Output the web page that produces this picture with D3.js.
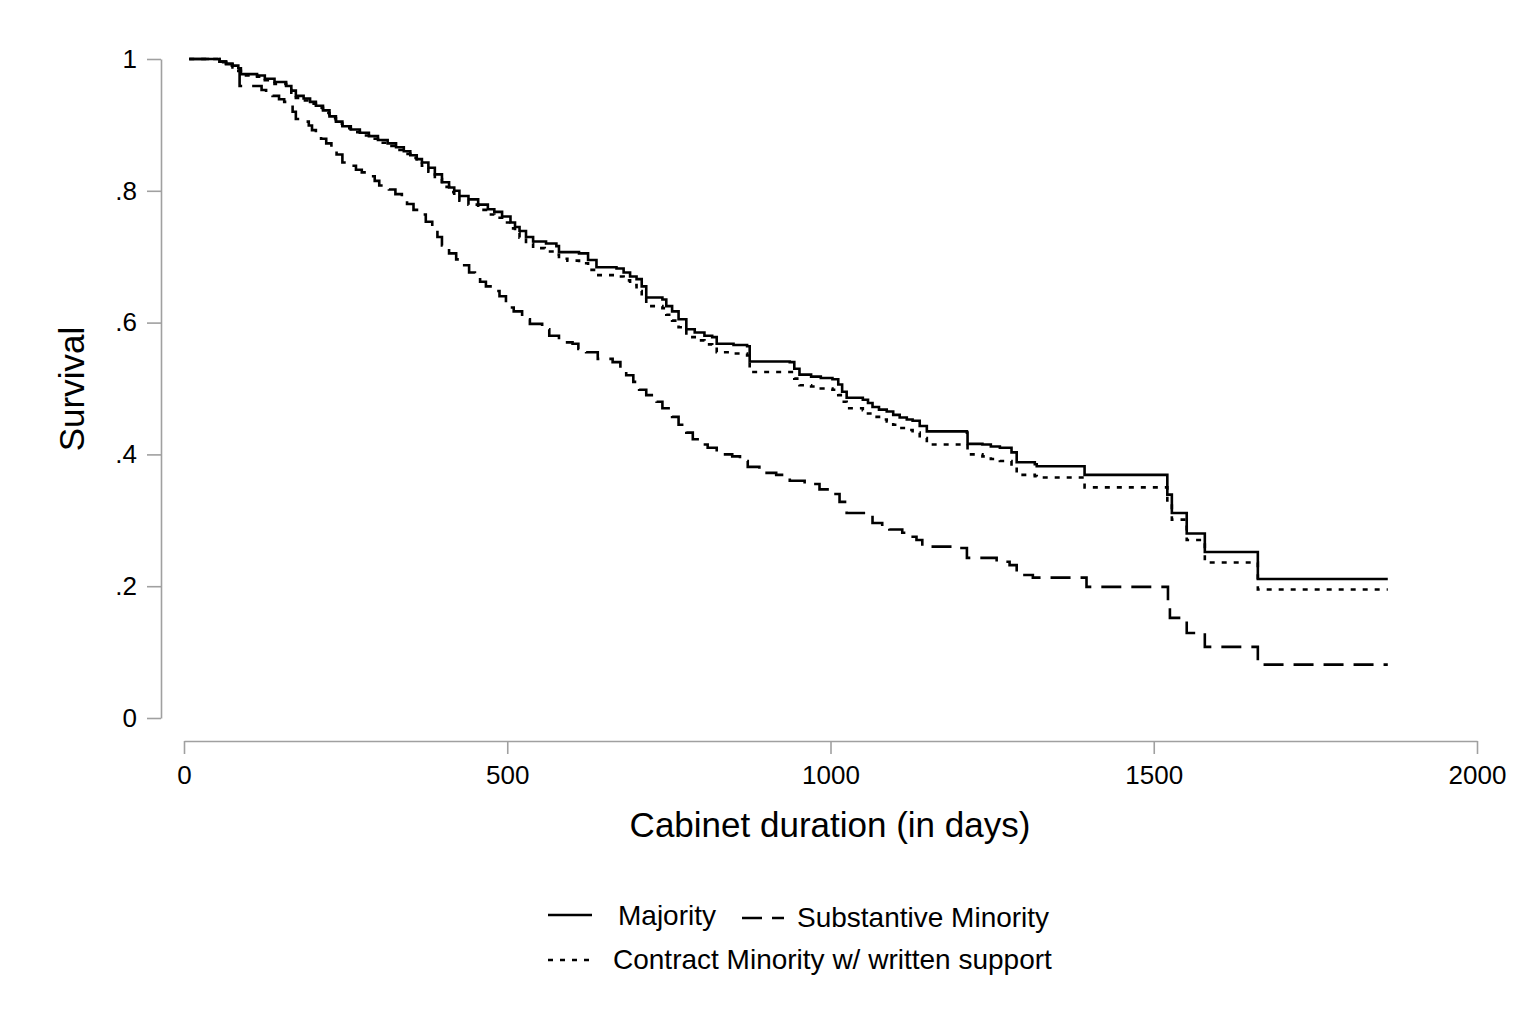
<!DOCTYPE html>
<html>
<head>
<meta charset="utf-8">
<script src="https://cdn.jsdelivr.net/npm/d3@7"></script>
<style>
  html, body { margin: 0; padding: 0; background: #fff; }
  svg { display: block; font-family: "Liberation Sans", Arial, sans-serif; }
</style>
</head>
<body>
<svg id="chart" width="1536" height="1024"></svg>
<script>
// ---- Data (Kaplan-Meier step points: [day, survival]) ----
const seriesNames = ["Majority", "Substantive Minority", "Contract Minority w/ written support"];

const majority = [
[8,1],[46,1],[55,0.996],[65,0.993],[75,0.99],[84,0.986],[88,0.977],[113,0.975],[125,0.97],[140,0.965],[158,0.959],[166,0.952],[173,0.944],[185,0.94],[195,0.935],[204,0.929],[215,0.922],[225,0.913],[235,0.905],[245,0.898],[258,0.893],[272,0.888],[286,0.883],[300,0.877],[315,0.872],[328,0.866],[340,0.86],[350,0.854],[360,0.848],[368,0.843],[378,0.835],[388,0.825],[399,0.813],[410,0.805],[418,0.8],[426,0.792],[440,0.787],[455,0.779],[470,0.772],[480,0.768],[492,0.761],[505,0.752],[512,0.745],[519,0.739],[529,0.73],[540,0.723],[560,0.72],[576,0.716],[580,0.707],[611,0.705],[625,0.695],[638,0.684],[669,0.682],[680,0.676],[690,0.67],[700,0.666],[708,0.655],[715,0.638],[740,0.635],[746,0.625],[755,0.617],[765,0.605],[777,0.59],[790,0.585],[805,0.58],[817,0.578],[824,0.568],[850,0.566],[871,0.564],[875,0.541],[937,0.54],[944,0.53],[952,0.521],[970,0.518],[985,0.516],[1003,0.514],[1012,0.506],[1018,0.495],[1025,0.486],[1050,0.483],[1058,0.478],[1065,0.472],[1075,0.468],[1087,0.465],[1097,0.46],[1107,0.456],[1118,0.453],[1127,0.451],[1138,0.443],[1149,0.435],[1211,0.433],[1212,0.416],[1235,0.415],[1248,0.412],[1262,0.41],[1280,0.403],[1288,0.388],[1316,0.385],[1319,0.382],[1385,0.382],[1393,0.369],[1520,0.369],[1521,0.339],[1528,0.311],[1551,0.28],[1579,0.252],[1661,0.211],[1862,0.211]
];

const substantive = [
[8,1],[46,1],[55,0.996],[65,0.992],[75,0.99],[84,0.985],[86,0.959],[113,0.959],[120,0.953],[127,0.948],[137,0.944],[147,0.939],[155,0.935],[163,0.93],[168,0.92],[173,0.909],[183,0.905],[193,0.899],[198,0.892],[204,0.883],[212,0.879],[220,0.872],[228,0.865],[236,0.855],[245,0.843],[255,0.838],[266,0.832],[275,0.828],[286,0.822],[295,0.815],[302,0.808],[310,0.805],[317,0.802],[327,0.795],[337,0.787],[345,0.78],[355,0.771],[364,0.764],[374,0.753],[384,0.742],[392,0.73],[399,0.717],[410,0.705],[421,0.696],[430,0.687],[441,0.676],[450,0.669],[458,0.662],[467,0.655],[478,0.648],[488,0.64],[498,0.623],[510,0.617],[523,0.605],[535,0.598],[554,0.59],[565,0.58],[580,0.57],[601,0.568],[610,0.56],[622,0.555],[640,0.545],[663,0.54],[675,0.53],[684,0.52],[695,0.51],[704,0.498],[715,0.49],[731,0.48],[740,0.47],[755,0.457],[765,0.445],[777,0.433],[787,0.423],[797,0.415],[810,0.41],[824,0.4],[848,0.397],[860,0.39],[872,0.381],[890,0.372],[916,0.369],[925,0.365],[937,0.36],[960,0.355],[983,0.347],[1000,0.34],[1014,0.328],[1025,0.311],[1050,0.311],[1065,0.296],[1080,0.29],[1091,0.286],[1111,0.281],[1125,0.275],[1133,0.27],[1142,0.26],[1189,0.258],[1211,0.243],[1257,0.237],[1277,0.232],[1288,0.217],[1313,0.213],[1385,0.213],[1396,0.199],[1520,0.199],[1522,0.175],[1525,0.152],[1551,0.129],[1579,0.108],[1661,0.081],[1862,0.081]
];

const contract = [
[8,1],[46,1],[55,0.995],[65,0.99],[75,0.987],[84,0.982],[88,0.975],[113,0.973],[125,0.968],[140,0.962],[158,0.955],[166,0.949],[173,0.941],[185,0.937],[195,0.932],[204,0.926],[215,0.918],[225,0.91],[235,0.902],[245,0.895],[258,0.889],[272,0.884],[286,0.879],[300,0.873],[315,0.868],[328,0.862],[340,0.856],[350,0.85],[360,0.843],[368,0.838],[378,0.829],[388,0.818],[399,0.806],[410,0.798],[418,0.792],[426,0.785],[440,0.779],[455,0.771],[470,0.764],[480,0.759],[492,0.752],[505,0.743],[512,0.736],[519,0.729],[529,0.72],[540,0.713],[558,0.708],[576,0.703],[580,0.697],[593,0.694],[611,0.69],[625,0.68],[638,0.672],[669,0.67],[680,0.664],[690,0.657],[700,0.648],[708,0.64],[715,0.625],[740,0.622],[746,0.612],[755,0.603],[765,0.593],[777,0.578],[790,0.573],[805,0.567],[817,0.563],[824,0.555],[850,0.553],[871,0.55],[875,0.525],[937,0.525],[944,0.515],[952,0.505],[970,0.503],[985,0.5],[1003,0.498],[1012,0.49],[1018,0.48],[1025,0.47],[1050,0.467],[1058,0.462],[1065,0.457],[1075,0.453],[1087,0.45],[1097,0.445],[1107,0.44],[1118,0.437],[1127,0.433],[1138,0.425],[1149,0.415],[1211,0.415],[1212,0.4],[1235,0.397],[1248,0.393],[1262,0.39],[1280,0.382],[1288,0.369],[1316,0.367],[1319,0.365],[1385,0.365],[1393,0.35],[1520,0.35],[1521,0.328],[1528,0.301],[1551,0.27],[1579,0.236],[1661,0.195],[1862,0.195]
];

const xTicks = [0, 500, 1000, 1500, 2000];
const yTicks = [0, 0.2, 0.4, 0.6, 0.8, 1];
const yTickLabels = ["0", ".2", ".4", ".6", ".8", "1"];
const xTitle = "Cabinet duration (in days)";
const yTitle = "Survival";

// ---- Drawing ----
const svg = d3.select("#chart");
const x = d3.scaleLinear().domain([0, 2000]).range([184, 1477]);
const y = d3.scaleLinear().domain([0, 1]).range([718, 59]);
const axisColor = "#a0a0a0";

// Y axis
const yAxis = svg.append("g").attr("transform", "translate(161,0)")
  .call(d3.axisLeft(y).tickValues(yTicks).tickSize(14).tickSizeOuter(0).tickPadding(10)
    .tickFormat((d, i) => yTickLabels[yTicks.indexOf(d)]));
yAxis.select(".domain").attr("stroke", axisColor).attr("stroke-width", 1.6);
yAxis.selectAll(".tick line").attr("stroke", axisColor).attr("stroke-width", 1.6);
yAxis.selectAll(".tick text").attr("font-size", 26).attr("fill", "#000")
  .attr("font-family", "Liberation Sans, Arial, sans-serif");

// X axis
const xAxis = svg.append("g").attr("transform", "translate(0,741)")
  .call(d3.axisBottom(x).tickValues(xTicks).tickSize(13).tickSizeOuter(0).tickPadding(12)
    .tickFormat(d3.format("d")));
xAxis.select(".domain").attr("stroke", axisColor).attr("stroke-width", 1.6);
xAxis.selectAll(".tick line").attr("stroke", axisColor).attr("stroke-width", 1.6);
xAxis.selectAll(".tick text").attr("font-size", 26).attr("fill", "#000")
  .attr("font-family", "Liberation Sans, Arial, sans-serif");

// Titles
svg.append("text").attr("x", 830).attr("y", 837).attr("text-anchor", "middle")
  .attr("font-size", 35).attr("fill", "#000").text(xTitle);
svg.append("text").attr("transform", "translate(84,389) rotate(-90)")
  .attr("text-anchor", "middle").attr("font-size", 35).attr("fill", "#000").text(yTitle);

// Lines
const line = d3.line().x(d => x(d[0])).y(d => y(d[1])).curve(d3.curveStepAfter);
const styles = [
  { data: majority, dash: null, w: 2.6 },
  { data: substantive, dash: "20,10", w: 2.6 },
  { data: contract, dash: "5,7", w: 2.6 }
];
styles.forEach(s => {
  svg.append("path").datum(s.data).attr("d", line)
    .attr("fill", "none").attr("stroke", "#000").attr("stroke-width", s.w)
    .attr("stroke-dasharray", s.dash);
});

// Legend
const leg = svg.append("g");
leg.append("line").attr("x1", 548).attr("x2", 592).attr("y1", 915).attr("y2", 915)
  .attr("stroke", "#000").attr("stroke-width", 2.6);
leg.append("text").attr("x", 618).attr("y", 925).attr("font-size", 28).text(seriesNames[0]);
leg.append("line").attr("x1", 742).attr("x2", 784).attr("y1", 918).attr("y2", 918)
  .attr("stroke", "#000").attr("stroke-width", 2.6).attr("stroke-dasharray", "20,10");
leg.append("text").attr("x", 797).attr("y", 927).attr("font-size", 28).text(seriesNames[1]);
leg.append("line").attr("x1", 548).attr("x2", 592).attr("y1", 960).attr("y2", 960)
  .attr("stroke", "#000").attr("stroke-width", 2.6).attr("stroke-dasharray", "5,7");
leg.append("text").attr("x", 613).attr("y", 969).attr("font-size", 28).text(seriesNames[2]);
</script>
</body>
</html>
